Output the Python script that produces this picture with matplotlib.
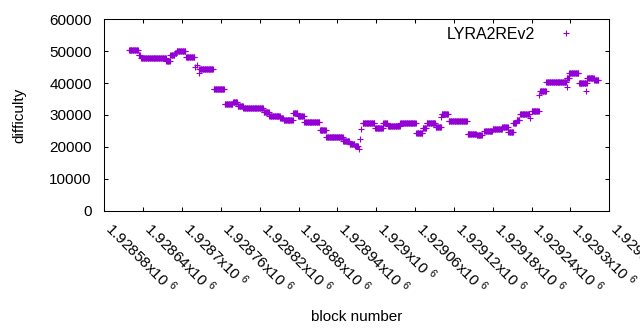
import numpy as np
import matplotlib
matplotlib.use('Agg')
import matplotlib.pyplot as plt

plt.rcParams['font.family'] = ['Liberation Sans', 'DejaVu Sans']
plt.rcParams['mathtext.fontset'] = 'custom'
plt.rcParams['mathtext.rm'] = 'Liberation Sans'
plt.rcParams['mathtext.default'] = 'regular'

# runs of constant difficulty: first block, last block, difficulty
run_start = [1928618, 1928633, 1928637, 1928676, 1928682, 1928689, 1928692, 1928706,
             1928727, 1928749, 1928766, 1928779, 1928786, 1928795, 1928826, 1928835,
             1928852, 1928857, 1928872, 1928879, 1928889, 1928913, 1928923, 1928949,
             1928959, 1928967, 1928979, 1928998, 1929011, 1929018, 1929037, 1929062,
             1929072, 1929078, 1929092, 1929101, 1929112, 1929141, 1929155, 1929167,
             1929180, 1929195, 1929204, 1929212, 1929217, 1929222, 1929240, 1929253,
             1929263, 1929294, 1929298, 1929313, 1929326, 1929337]
run_end = [1928632, 1928635, 1928675, 1928681, 1928688, 1928691, 1928705, 1928719,
           1928748, 1928765, 1928778, 1928785, 1928794, 1928825, 1928834, 1928851,
           1928856, 1928871, 1928878, 1928888, 1928912, 1928922, 1928948, 1928958,
           1928966, 1928972, 1928997, 1929010, 1929017, 1929036, 1929061, 1929071,
           1929077, 1929091, 1929100, 1929111, 1929140, 1929154, 1929163, 1929179,
           1929194, 1929203, 1929211, 1929216, 1929221, 1929236, 1929251, 1929262,
           1929293, 1929297, 1929312, 1929325, 1929336, 1929343]
run_diff = [50500, 48900, 48000, 46800, 48700, 49400, 50000, 48100,
            44400, 38000, 33600, 34000, 32900, 32100, 31000, 29700,
            29000, 28300, 30600, 29700, 27800, 25400, 23100, 21700,
            20900, 20400, 27600, 26000, 27500, 26600, 27600, 24450,
            25800, 27400, 26300, 30300, 28200, 24200, 23700, 25000,
            25500, 26200, 24600, 27400, 28400, 30400, 31400, 37500,
            40400, 41700, 43100, 40100, 41700, 41100]

# isolated blocks
single_block = [1928720, 1928723, 1928726, 1928973, 1928975, 1928977,
                1929100, 1929238, 1929252, 1929294, 1929324]
single_diff = [45000, 45800, 43200, 19300, 22400, 25500,
               29300, 29000, 36300, 38700, 37500]

x_ticks = np.arange(1928580, 1929361, 60)
y_ticks = [0, 10000, 20000, 30000, 40000, 50000, 60000]

blocks = np.concatenate([np.arange(s, e + 1) for s, e in zip(run_start, run_end)]
                        + [np.array(single_block)])
diffs = np.concatenate([np.full(e - s + 1, d) for s, e, d in zip(run_start, run_end, run_diff)]
                       + [np.array(single_diff)])

fig = plt.figure(figsize=(6.4, 3.3), dpi=100)
ax = fig.add_axes([104.3 / 640, 1 - 210.7 / 330, 505 / 640, 191.4 / 330])

ax.plot(blocks, diffs, '+', color='#9400d3', ms=5, mew=0.8, label='LYRA2REv2')

ax.set_xlim(1928580, 1929360)
ax.set_ylim(0, 60000)
ax.set_xticks(x_ticks, [f"{v / 1e6:g}x10 $^{{6}}$" for v in x_ticks])
ax.set_yticks(y_ticks)
plt.setp(ax.get_xticklabels(), rotation=-45, ha='left', va='baseline', rotation_mode='anchor')

ax.tick_params(direction='in', length=3.2, width=0.75, top=True, right=True, labelsize=11)
ax.tick_params(axis='y', pad=9)
ax.tick_params(axis='x', pad=13.5)
for s in ax.spines.values():
    s.set_linewidth(0.75)

ax.set_xlabel('block number', fontsize=11, va='top')
ax.xaxis.set_label_coords(0.5, -0.52)
ax.set_ylabel('difficulty', fontsize=11)
ax.yaxis.set_label_coords(-0.155, 0.5)

ax.legend(loc='upper right', bbox_to_anchor=(0.946, 0.962), frameon=False, markerfirst=False,
          handlelength=2, handletextpad=0.95, borderpad=0, borderaxespad=0, fontsize=11.5)

fig.savefig('out.png', dpi=100)
